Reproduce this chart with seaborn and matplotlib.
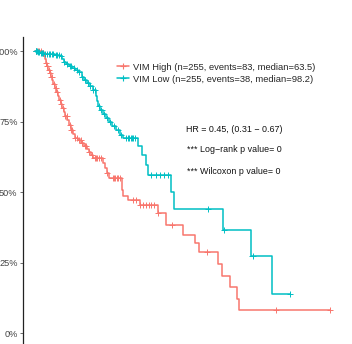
import numpy as np
import pandas as pd
import matplotlib
matplotlib.use("Agg")
import matplotlib.pyplot as plt
from matplotlib.lines import Line2D
import seaborn as sns

# ---------------- data ----------------
groups = ["VIM High (n=255, events=83, median=63.5)",
          "VIM Low (n=255, events=38, median=98.2)"]
colors = ["#F8766D", "#00BFC4"]

high_event_times = [5.1, 6.5, 7.2, 7.9, 8.7, 9.4, 10.8, 11.5, 12.3, 13.0, 14.4, 15.2,
                    16.6, 17.3, 18.8, 19.5, 20.9, 21.6, 23.1, 24.5, 26.0, 27.4, 28.9,
                    31.0, 33.2, 35.4, 37.5, 39.0, 40.4, 41.8, 49.1, 50.5, 51.9, 53.4,
                    62.8, 63.5, 67.1, 75.8, 88.7, 94.5, 106.8, 115.4, 118.3, 132.0,
                    134.9, 140.7, 145.7, 147.2]
high_surv = [0.993, 0.982, 0.972, 0.957, 0.947, 0.933, 0.922, 0.908, 0.897, 0.883, 0.869,
             0.855, 0.840, 0.826, 0.812, 0.798, 0.784, 0.770, 0.755, 0.738, 0.720, 0.706,
             0.691, 0.684, 0.674, 0.663, 0.652, 0.642, 0.631, 0.621, 0.603, 0.585, 0.567,
             0.550, 0.507, 0.486, 0.472, 0.454, 0.426, 0.383, 0.348, 0.319, 0.287, 0.245,
             0.202, 0.163, 0.121, 0.082]
high_end = 212.8
high_censor = [0.5, 1, 2, 3, 4, 5.5, 6, 8, 9, 10, 11, 12, 14, 15, 16, 18, 19, 20, 22, 23,
               25, 26, 27, 29, 30, 32, 33, 34, 36, 37, 39, 41, 43, 44, 45, 46, 48, 52, 56,
               57, 58, 59, 60, 61, 71, 73, 76, 78, 80, 82, 84, 86, 89, 99, 124, 174, 212.8]

low_event_times = [2.2, 3.6, 7.2, 14.4, 18.0, 19.5, 20.9, 22.4, 24.5, 26.7, 28.9, 31.0,
                   33.9, 35.4, 37.5, 39.7, 41.8, 44.0, 44.7, 45.5, 46.9, 49.1, 51.2, 53.4,
                   55.6, 58.4, 61.3, 63.5, 74.3, 77.1, 80.1, 81.5, 98.2, 100.5, 135.6,
                   155.8, 171.0]
low_surv = [0.996, 0.993, 0.989, 0.986, 0.982, 0.972, 0.961, 0.954, 0.947, 0.940, 0.933,
            0.926, 0.908, 0.897, 0.887, 0.876, 0.862, 0.840, 0.823, 0.805, 0.791, 0.777,
            0.762, 0.748, 0.734, 0.720, 0.702, 0.691, 0.663, 0.631, 0.596, 0.560, 0.500,
            0.440, 0.365, 0.273, 0.138]
low_end = 184.0
low_censor = [0.5, 1, 1.5, 2.5, 3, 4, 5, 6, 7.5, 8.5, 10, 11, 12, 13, 15, 16, 17, 19, 21,
              23, 25, 26, 28, 30, 32, 34, 36, 38, 40, 42, 43, 46, 48, 50, 52, 54, 57, 60,
              62, 66, 68, 70, 72, 67, 69, 71, 84, 87, 90, 93, 96, 125, 136.5, 157, 184.0]

yticks = [0, 0.25, 0.5, 0.75, 1.0]
ytick_labels = ["0%", "25%", "50%", "75%", "100%"]
annot_lines = ["HR = 0.45, (0.31 \u2212 0.67)",
               "*** Log\u2212rank p value= 0",
               "*** Wilcoxon p value= 0"]

# ---------------- build frames ----------------
def curve(times, surv, end):
    t = [0.0] + list(times) + [end]
    s = [1.0] + list(surv) + [surv[-1]]
    return t, s

def surv_at(times, surv, c):
    idx = np.searchsorted(np.asarray(times), c, side="right") - 1
    return 1.0 if idx < 0 else surv[idx]

rows, crows = [], []
for g, et, sv, end, cen in [(groups[0], high_event_times, high_surv, high_end, high_censor),
                            (groups[1], low_event_times, low_surv, low_end, low_censor)]:
    t, s = curve(et, sv, end)
    rows += [{"time": a, "surv": b, "group": g} for a, b in zip(t, s)]
    crows += [{"time": c, "surv": surv_at(et, sv, c), "group": g} for c in cen]
df = pd.DataFrame(rows)
cdf = pd.DataFrame(crows)

# ---------------- plot ----------------
sns.set_style("white")
plt.rcParams["font.family"] = ["Liberation Sans", "DejaVu Sans"]

W, H = 352, 344
fig = plt.figure(figsize=(W / 100, H / 100), dpi=100)
ax = fig.add_axes([22.5 / W, 0.0, (345 - 22.5) / W, (344 - 37) / H])

palette = dict(zip(groups, colors))
for g in groups:
    sns.lineplot(data=df[df.group == g], x="time", y="surv", color=palette[g],
                 estimator=None, sort=False, drawstyle="steps-post", lw=1.1,
                 ax=ax, legend=False)
sns.scatterplot(data=cdf, x="time", y="surv", hue="group", palette=palette,
                marker="+", s=20, linewidth=0.7, ax=ax, legend=False, zorder=3)

ax.set_xlim(-9.0, 223.7)
ax.set_ylim(-0.039, 1.05)
ax.set_yticks(yticks)
ax.set_yticklabels(ytick_labels)
ax.set_xticks([])
ax.set_xlabel("")
ax.set_ylabel("")
for sp in ["top", "right", "bottom"]:
    ax.spines[sp].set_visible(False)
ax.spines["left"].set_color("#222222")
ax.spines["left"].set_linewidth(0.9)
ax.tick_params(axis="y", left=True, length=2.5, width=0.6, color="#555555",
               labelsize=6.6, labelcolor="#444444", pad=1)

handles = [Line2D([0], [0], color=c, lw=1.1, marker="+", markersize=5, markeredgewidth=0.8)
           for c in colors]
ax.legend(handles, groups, loc="upper left", bbox_to_anchor=(112 / W, 1 - 58 / H),
          bbox_transform=fig.transFigure, frameon=False, fontsize=6.75,
          handlelength=1.3, handletextpad=0.4, labelspacing=0.3, borderpad=0)

for i, txt in enumerate(annot_lines):
    fig.text(234 / W, 1 - (129 + 21 * i) / H, txt, ha="center", va="center",
             fontsize=6.4, color="#111111")

fig.savefig("out.png", dpi=100)
